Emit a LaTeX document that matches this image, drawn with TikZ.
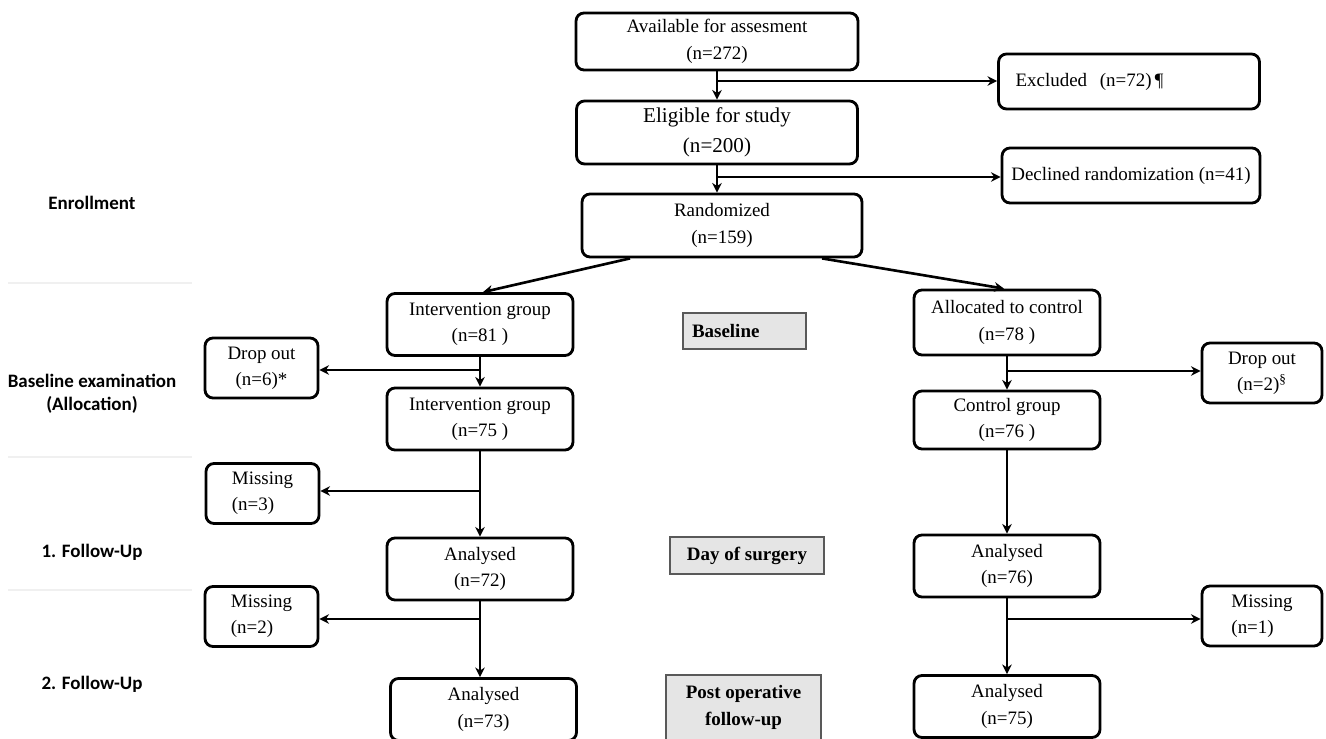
\documentclass[tikz,border=0pt]{standalone}
\usepackage{fontspec}
\setmainfont{Liberation Serif}
\newfontfamily\phasefont{Carlito}
\usetikzlibrary{arrows.meta}

\tikzset{
    box/.style={draw, line width=1.6pt, rounded corners=0.16cm, align=center,
        inner sep=1pt, font=\fontsize{10.8}{15}\selectfont},
    groupbox/.style={box, minimum width=3.72cm, minimum height=1.24cm},
    sidebox/.style={box, minimum width=2.26cm, minimum height=1.2cm},
    stagebox/.style={draw=black!65, fill=black!10, line width=0.6pt, align=center,
        font=\fontsize{10.8}{15}\selectfont\bfseries},
    phase/.style={align=center, font=\phasefont\fontsize{10.8}{13}\selectfont\bfseries},
    arr/.style={line width=1.5pt, -{Stealth[length=5.5pt,width=5.5pt]}},
    sep/.style={draw=black!6, line width=0.8pt}
}

\begin{document}
\begin{tikzpicture}[x=0.02cm, y=-0.02cm]
        \useasboundingbox (0,0) rectangle (1326,739);
        % phase labels on the left and the thin separators
        \node[phase] (enrol) at (92,203) {Enrollment};
        \node[phase] (alloc) at (92,394) {Baseline examination\\(Allocation)};
        \node[phase] (fu1)   at (92,552) {1. Follow-Up};
        \node[phase] (fu2)   at (92,684) {2. Follow-Up};
        \draw[sep] (8,283) -- (192,283);
        \draw[sep] (8,457) -- (192,457);
        \draw[sep] (8,590) -- (192,590);
        % enrollment column
        \node[box, minimum width=5.64cm, minimum height=1.14cm] (avail) at (717,41.5)
            {Available for assesment\\(n=272)};
        \node[box, minimum width=5.62cm, minimum height=1.26cm,
            font=\fontsize{12}{17}\selectfont] (elig) at (717,132.5)
            {Eligible for study\\(n=200)};
        \node[box, minimum width=5.6cm, minimum height=1.26cm] (rand) at (722,225.5)
            {Randomized\\(n=159)};
        \node[box, minimum height=1.1cm, text width=4.54cm, inner xsep=0.34cm,
            align=left] (excl) at (1129,81.5) {Excluded\ \ (n=72)\,¶};
        \node[box, minimum width=5.16cm, minimum height=1.1cm] (decl) at (1131,175.5)
            {Declined randomization (n=41)};
        \coordinate (b1) at (717,81);
        \coordinate (b2) at (717,177);
        \draw[arr] (avail.south) -- (elig.north);
        \draw[arr] (b1) -- (b1 -| excl.west);
        \draw[arr] (elig.south) -- (elig.south |- rand.north);
        \draw[arr] (b2) -- (b2 -| decl.west);
        % intervention arm
        \node[groupbox] (int1) at (480,324.5) {Intervention group\\(n=81 )};
        \node[groupbox] (int2) at (480,419)   {Intervention group\\(n=75 )};
        \node[groupbox] (ana1) at (480,569)   {Analysed\\(n=72)};
        \node[groupbox] (ana2) at (483.5,709.5) {Analysed\\(n=73)};
        \node[sidebox] (drop1) at (261.5,368) {Drop out\\(n=6)*};
        \node[sidebox, align=left] (miss1) at (262.5,493.5) {Missing\\(n=3)};
        \node[sidebox, align=left] (miss2) at (261.5,616.5) {Missing\\(n=2)};
        \coordinate (b3) at (480,370);
        \coordinate (b4) at (480,491);
        \coordinate (b5) at (480,619);
        \draw[arr] ([xshift=-1.84cm]rand.south) -- ([xshift=0.06cm]int1.north);
        \draw[arr] (int1.south) -- (int2.north);
        \draw[arr] (b3) -- (b3 -| drop1.east);
        \draw[arr] (int2.south) -- (ana1.north);
        \draw[arr] (b4) -- (b4 -| miss1.east);
        \draw[arr] (ana1.south) -- (ana1.south |- ana2.north);
        \draw[arr] (b5) -- (b5 -| miss2.east);
        % control arm
        \node[groupbox, minimum height=1.3cm] (ctl1) at (1007,322.5)
            {Allocated to control\\(n=78 )};
        \node[groupbox, minimum height=1.16cm] (ctl2) at (1007,420) {Control group\\(n=76 )};
        \node[groupbox] (ana3) at (1007,566)   {Analysed\\(n=76)};
        \node[groupbox] (ana4) at (1007,706.5) {Analysed\\(n=75)};
        \node[sidebox, minimum width=2.4cm] (drop2) at (1262,373)
            {Drop out\\(n=2)\textsuperscript{§}};
        \node[sidebox, minimum width=2.4cm, align=left] (miss3) at (1262,616)
            {Missing\\(n=1)};
        \coordinate (b6) at (1007,371);
        \coordinate (b7) at (1007,619);
        \draw[arr] ([xshift=2cm]rand.south) -- ([xshift=-0.06cm]ctl1.north);
        \draw[arr] (ctl1.south) -- (ctl2.north);
        \draw[arr] (b6) -- (b6 -| drop2.west);
        \draw[arr] (ctl2.south) -- (ana3.north);
        \draw[arr] (ana3.south) -- (ana4.north);
        \draw[arr] (b7) -- (b7 -| miss3.west);
        % stage boxes in the middle
        \node[stagebox, minimum height=0.72cm, text width=2.1cm, align=left,
            inner xsep=0.18cm] (base) at (744.5,331) {Baseline};
        \node[stagebox, minimum width=3.08cm, minimum height=0.74cm] (dos) at (747,555.5)
            {Day of surgery};
        \node[stagebox, minimum width=3.1cm, minimum height=1.3cm] (post) at (743.5,707.5)
            {Post operative\\follow-up};
    \end{tikzpicture}
\end{document}
